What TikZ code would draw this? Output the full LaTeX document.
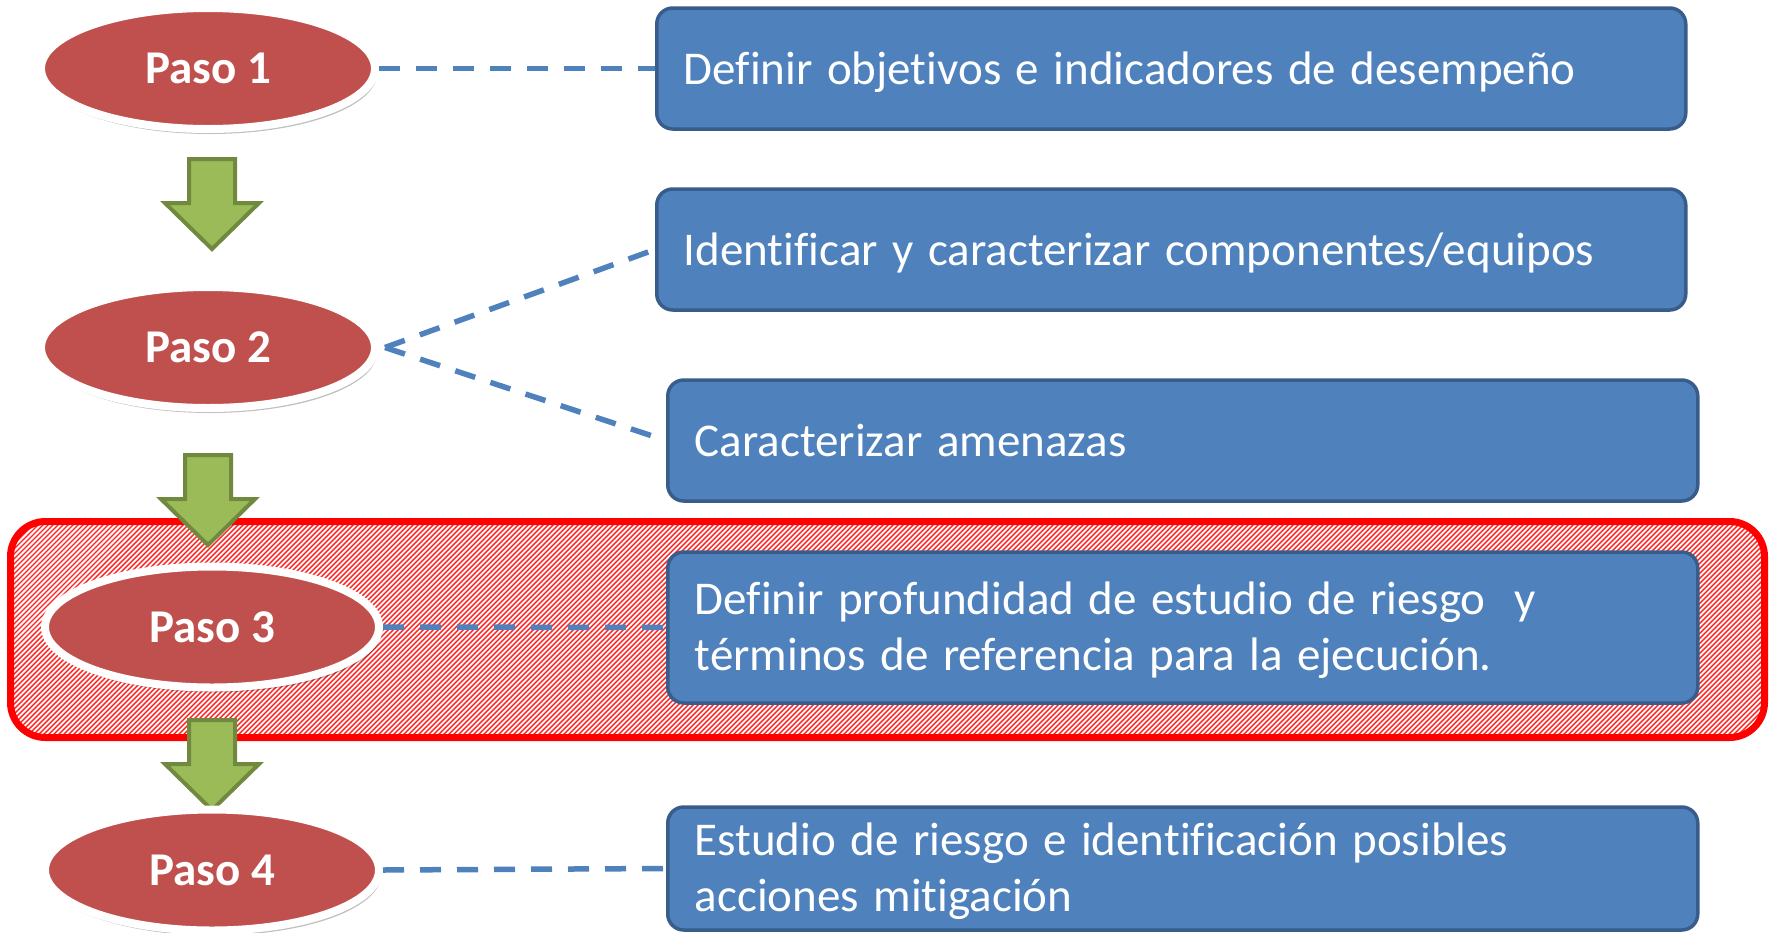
\documentclass[tikz,border=0pt]{standalone}
\usepackage{fontspec}
\setmainfont{Carlito}[Ligatures=NoCommon]
\usetikzlibrary{shapes.geometric,shadows}
\definecolor{pasored}{HTML}{C0504D}
\definecolor{boxblue}{HTML}{4F81BD}
\definecolor{boxborder}{HTML}{385D8A}
\definecolor{arrowgreen}{HTML}{9BBB59}
\definecolor{arrowdark}{HTML}{71893F}
\definecolor{hatchred}{HTML}{FF2020}
\tikzset{
  paso/.style={ellipse, fill=pasored, draw=white, line width=8, minimum width=334, minimum height=121,
    inner sep=0, text=white, font=\fontsize{47}{57}\selectfont\bfseries,
    drop shadow={shadow xshift=2pt, shadow yshift=-5pt, opacity=0.25, fill=black}},
  stepbox/.style={rectangle, rounded corners=16, fill=boxblue, draw=boxborder, line width=3.5,
    minimum height=121, inner xsep=27, inner ysep=0, align=left, text=white, anchor=west,
    font=\fontsize{47}{56}\selectfont, execute at begin node={\spaceskip=14.5pt plus 3pt minus 2pt\relax},
    text height=31, text depth=0},
  twolines/.style={text height=30, text depth=56},
  conn/.style={draw=boxblue, line width=5.5, dash pattern=on 21pt off 16pt},
  greenarrow/.pic={\draw[fill=arrowgreen, draw=arrowdark, line width=4, line join=miter]
    (-23,2) -- (23,2) -- (23,46) -- (47,46) -- (0,92) -- (-47,46) -- (-23,46) -- cycle;},
}
\begin{document}
\begin{tikzpicture}[x=1pt,y=-1pt]
\useasboundingbox (0,0) rectangle (1775,932);
% highlighted region of step 3
\node (focus) [rectangle, draw=red, line width=7, rounded corners=35, minimum width=1754,
  minimum height=216, inner sep=0,
  path picture={\foreach \i in {-250,-245,...,1775}
    \draw[hatchred, line width=1.4] ([xshift=\i pt, yshift=-5pt]path picture bounding box.south west) -- ++(250,-250);}]
  at (887.5,629.5) {};
% arrows
\pic at (212,157) {greenarrow};
\pic at (208,453) {greenarrow};
\pic at (212,718) {greenarrow};
% steps
\node[paso] (p1) at (208,68.5) {Paso 1};
\node[paso] (p2) at (208,347.5) {Paso 2};
\node[paso] (p3) at (212,627) {Paso 3};
\node[paso] (p4) at (212,870) {Paso 4};
% boxes
\node[stepbox, text width=975] (b1) at (655,68.5) {Definir objetivos e indicadores de desempeño};
\node[stepbox, text width=975] (b2) at (655,249.5) {Identificar y caracterizar componentes/equipos};
\node[stepbox, text width=976] (b3) at (666,440.5) {Caracterizar amenazas};
\node[stepbox, twolines, text width=976, minimum height=151] (b4) at (666,627.5) {Definir profundidad de estudio de riesgo~ y\\términos de referencia para la ejecución.};
\node[stepbox, twolines, text width=976, minimum height=123] (b5) at (666,868.5) {Estudio de riesgo e identificación posibles\\acciones mitigación};
% connectors
\draw[conn] (p1.east) -- (b1.west);
\draw[conn] ([xshift=6]p2.east) -- (b2.west);
\draw[conn] ([xshift=6]p2.east) -- (b3.west);
\draw[conn] (p3.east) -- (b4.west);
\draw[conn] (p4.east) -- (b5.west);
\end{tikzpicture}
\end{document}
